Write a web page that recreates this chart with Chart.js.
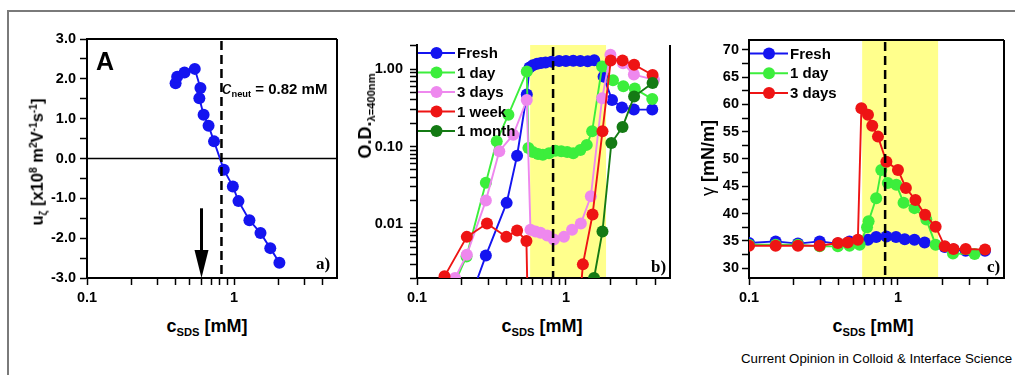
<!DOCTYPE html>
<html lang="en">
<head>
<meta charset="UTF-8">
<title>SDS panels a-c</title>
<script src="https://cdn.jsdelivr.net/npm/chart.js"></script>
<style>
  * { margin: 0; padding: 0; box-sizing: border-box; }
  body {
    width: 1015px; height: 375px; background: #fff;
    position: relative; overflow: hidden;
    font-family: Arial, 'Liberation Sans', sans-serif; color: #000;
  }
  .frame-top { position: absolute; left: 8px; top: 10px; width: 1007px; height: 2px; background: #7a7a7a; }
  .frame-left { position: absolute; left: 7px; top: 10px; width: 2px; height: 365px; background: #7a7a7a; }
  canvas { position: absolute; top: 0; }
  .lbl { position: absolute; font-weight: bold; white-space: nowrap; line-height: 1; }
  .rot { transform: translate(-50%, -50%) rotate(-90deg); }
  .cx { transform: translateX(-50%); }
  .lbl sub { font-size: 0.62em; vertical-align: -0.35em; line-height: 0; }
  .lbl sup { font-size: 0.62em; vertical-align: 0.6em; line-height: 0; }
  .serif { font-family: 'Liberation Serif', 'Times New Roman', serif; }
</style>
</head>
<body>
<div class="frame-top"></div>
<div class="frame-left"></div>

<canvas id="chartA" width="345" height="310" style="left:0"></canvas>
<canvas id="chartB" width="340" height="310" style="left:340px"></canvas>
<canvas id="chartC" width="335" height="310" style="left:680px"></canvas>

<!-- panel a -->
<div class="lbl" style="left:96px; top:49px; font-size:25px">A</div>
<div class="lbl" style="left:222px; top:78px; font-size:15px"><i style="font-weight:normal; font-size:19px">c</i><sub>neut</sub> = 0.82 mM</div>
<div class="lbl rot" style="left:37px; top:162px; font-size:16.5px">u<sub>&zeta;</sub> [x10<sup>8</sup> m<sup>2</sup>V<sup>-1</sup>s<sup>-1</sup>]</div>
<div class="lbl cx" style="left:207px; top:317px; font-size:18px">c<sub>SDS</sub> [mM]</div>
<div class="lbl serif" style="left:316px; top:255px; font-size:17px">a)</div>

<!-- panel b -->
<div class="lbl rot" style="left:365px; top:116px; font-size:18px">O.D.<sub>&lambda;=400nm</sub></div>
<div class="lbl cx" style="left:542px; top:317px; font-size:18px">c<sub>SDS</sub> [mM]</div>
<div class="lbl serif" style="left:651px; top:258px; font-size:17px">b)</div>

<!-- panel c -->
<div class="lbl rot" style="left:708px; top:158px; font-size:18px"><span style="font-weight:normal">&gamma;</span> [mN/m]</div>
<div class="lbl cx" style="left:873px; top:317px; font-size:18px">c<sub>SDS</sub> [mM]</div>
<div class="lbl serif" style="left:987px; top:258px; font-size:17px">c)</div>

<div class="lbl" style="left:741px; top:352px; font-size:13.3px; font-weight:normal">Current Opinion in Colloid &amp; Interface Science</div>

<script>
// shared markers
const cNeut = 0.82;
const yellowBand = [0.575, 1.86];
const arrowAt = 0.6;
const arrowSpan = [-1.25, -3.0];

// axis ticks
const xTicks = [0.1, 0.2, 0.3, 0.4, 0.5, 0.6, 0.7, 0.8, 0.9, 1, 2, 3, 4];
const xLabels = [0.1, 1];
const aYTicks = [-3, -2.5, -2, -1.5, -1, -0.5, 0, 0.5, 1, 1.5, 2, 2.5, 3];
const aYLabels = [-3, -2, -1, 0, 1, 2, 3];
const bYTicks = [0.002, 0.003, 0.004, 0.005, 0.006, 0.007, 0.008, 0.009,
                 0.01, 0.02, 0.03, 0.04, 0.05, 0.06, 0.07, 0.08, 0.09,
                 0.1, 0.2, 0.3, 0.4, 0.5, 0.6, 0.7, 0.8, 0.9, 1, 2];
const bYLabels = [0.01, 0.1, 1];
const cYTicks = [30, 32.5, 35, 37.5, 40, 42.5, 45, 47.5, 50, 52.5, 55, 57.5, 60, 62.5, 65, 67.5, 70];
const cYLabels = [30, 35, 40, 45, 50, 55, 60, 65, 70];

// panel a: electrophoretic mobility
const aConc = [0.40, 0.41, 0.46, 0.54, 0.59, 0.58, 0.62, 0.67, 0.73, 0.85, 0.98, 1.07, 1.27, 1.51, 1.76, 2.03];
const aMob  = [1.89, 2.05, 2.16, 2.25, 1.77, 1.51, 1.10, 0.82, 0.43, -0.28, -0.70, -1.07, -1.55, -1.87, -2.25, -2.62];

// panel b: optical density
const bFreshX = [0.22, 0.29, 0.40, 0.47, 0.546, 0.57, 0.60, 0.64, 0.68, 0.73, 0.80, 0.90, 1.00, 1.12, 1.25, 1.40, 1.55, 1.79, 2.04, 2.38, 2.86, 3.80];
const bFreshY = [0.0009, 0.0039, 0.0187, 0.076, 0.47, 1.05, 1.12, 1.17, 1.20, 1.22, 1.25, 1.27, 1.27, 1.28, 1.27, 1.26, 1.30, 0.80, 0.40, 0.32, 0.30, 0.30];
const bDay1X = [0.15, 0.215, 0.29, 0.343, 0.411, 0.546, 0.56, 0.60, 0.65, 0.70, 0.77, 0.85, 0.93, 1.02, 1.12, 1.25, 1.38, 1.50, 1.75, 2.07, 2.43, 2.90, 3.80];
const bDay1Y = [0.0008, 0.0038, 0.034, 0.117, 0.258, 0.93, 0.096, 0.085, 0.080, 0.078, 0.082, 0.088, 0.087, 0.085, 0.082, 0.090, 0.105, 0.157, 1.08, 0.72, 0.60, 0.56, 0.41];
const bDay3X = [0.15, 0.18, 0.216, 0.29, 0.357, 0.443, 0.546, 0.578, 0.625, 0.675, 0.749, 0.83, 0.97, 1.10, 1.26, 1.47, 1.75, 1.99, 2.42, 2.86, 3.90];
const bDay3Y = [0.0005, 0.002, 0.0040, 0.020, 0.087, 0.142, 0.40, 0.0084, 0.0080, 0.0077, 0.0071, 0.0063, 0.0068, 0.0084, 0.0101, 0.0227, 0.42, 1.53, 1.19, 0.85, 0.73];
const bWeek1X = [0.12, 0.153, 0.216, 0.295, 0.398, 0.47, 0.543, 0.56, 1.18, 1.30, 1.51, 1.76, 2.00, 2.40, 2.87, 3.82];
const bWeek1Y = [0.0008, 0.0021, 0.0068, 0.0101, 0.0068, 0.0082, 0.0060, 0.0003, 0.0003, 0.0030, 0.0132, 0.157, 1.29, 1.29, 1.14, 0.84];
const bMonth1X = [1.40, 1.545, 1.76, 2.02, 2.40, 2.87, 3.82];
const bMonth1Y = [0.0005, 0.0020, 0.0080, 0.111, 0.179, 0.443, 0.66];

// panel c: surface tension
const cFreshX = [0.10, 0.151, 0.213, 0.298, 0.395, 0.473, 0.55, 0.629, 0.714, 0.836, 0.97, 1.11, 1.29, 1.51, 2.06, 2.36, 2.85, 3.84];
const cFreshY = [34.6, 34.9, 34.5, 34.9, 34.5, 34.9, 35.0, 35.2, 35.7, 35.8, 35.7, 35.3, 35.2, 34.7, 33.9, 33.4, 33.2, 33.2];
const cDay1X = [0.10, 0.151, 0.213, 0.298, 0.395, 0.473, 0.553, 0.62, 0.635, 0.714, 0.773, 0.855, 0.975, 1.09, 1.29, 1.55, 1.79, 2.34, 3.27];
const cDay1Y = [34.3, 34.3, 34.3, 34.0, 34.0, 34.1, 34.3, 37.5, 38.6, 42.8, 48.0, 45.6, 45.3, 42.0, 41.0, 38.9, 34.3, 32.7, 32.6];
const cDay3X = [0.10, 0.151, 0.213, 0.298, 0.395, 0.46, 0.538, 0.568, 0.629, 0.672, 0.734, 0.836, 1.00, 1.13, 1.31, 1.52, 1.79, 2.06, 2.36, 2.85, 3.84];
const cDay3Y = [34.1, 34.1, 34.1, 34.1, 34.6, 34.7, 35.2, 59.3, 58.1, 56.1, 54.1, 49.5, 48.0, 44.7, 42.5, 39.8, 37.6, 34.0, 33.5, 33.5, 33.4];

const colors = { fresh: '#1414f0', day1: '#3cee3c', day3: '#ee88ee', week1: '#ee1414', month1: '#147a14' };
const tickFont = { family: 'Arial, "Liberation Sans", sans-serif', size: 14.5, weight: 'bold' };

const pts = (xs, ys) => xs.map((x, i) => ({ x: x, y: ys[i] }));

function series(label, xs, ys, color, order) {
  return {
    label: label, data: pts(xs, ys), showLine: true, order: order,
    borderColor: color, backgroundColor: color, borderWidth: 1.9,
    pointRadius: 6, pointBorderWidth: 0, pointBackgroundColor: color
  };
}

function xAxis(max) {
  return {
    type: 'logarithmic', min: 0.1, max: max,
    afterBuildTicks: s => { s.ticks = xTicks.map(v => ({ value: v })); },
    afterFit: s => { s.height = 32; },
    ticks: { autoSkip: false, maxRotation: 0, padding: 4, color: '#000', font: tickFont,
             callback: v => xLabels.includes(v) ? String(v) : '' },
    grid: { drawOnChartArea: false, tickLength: 7, tickColor: '#000', tickWidth: 1.5 },
    border: { color: '#000', width: 2 }
  };
}

function yAxis(type, min, max, ticks, labels, digits, width, pad) {
  return {
    type: type, min: min, max: max,
    afterBuildTicks: s => { s.ticks = ticks.map(v => ({ value: v })); },
    afterFit: s => { s.width = width; },
    ticks: { autoSkip: false, padding: pad, color: '#000', font: tickFont,
             callback: v => labels.some(l => Math.abs(l - v) < 1e-9) ? v.toFixed(digits) : '' },
    grid: { drawOnChartArea: false, tickLength: 7, tickColor: '#000', tickWidth: 1.5 },
    border: { color: '#000', width: 2 }
  };
}

// band, zero line, dashed c_neut line, arrow, frame and in-plot legend
const deco = {
  id: 'deco',
  beforeDatasetsDraw(chart, args, o) {
    const { ctx, chartArea: ca, scales: { x, y } } = chart;
    ctx.save();
    if (o.band) {
      const x0 = x.getPixelForValue(yellowBand[0]), x1 = x.getPixelForValue(yellowBand[1]);
      ctx.fillStyle = '#ffff8c';
      ctx.fillRect(x0, ca.top, x1 - x0, ca.bottom - ca.top - 1);
    }
    if (o.zero) {
      const y0 = y.getPixelForValue(0);
      ctx.strokeStyle = '#000'; ctx.lineWidth = 1.5;
      ctx.beginPath(); ctx.moveTo(ca.left, y0); ctx.lineTo(ca.right, y0); ctx.stroke();
    }
    ctx.restore();
  },
  afterDatasetsDraw(chart, args, o) {
    const { ctx, chartArea: ca, scales: { x, y } } = chart;
    ctx.save();
    const xn = x.getPixelForValue(cNeut);
    ctx.strokeStyle = '#000'; ctx.lineWidth = 2.5; ctx.setLineDash([9, 5]);
    ctx.beginPath(); ctx.moveTo(xn, ca.top + 2); ctx.lineTo(xn, ca.bottom); ctx.stroke();
    ctx.setLineDash([]);

    if (o.arrow) {
      const xa = x.getPixelForValue(arrowAt);
      const yTop = y.getPixelForValue(arrowSpan[0]), yTip = y.getPixelForValue(arrowSpan[1]);
      const headH = 28;
      ctx.lineWidth = 3;
      ctx.beginPath(); ctx.moveTo(xa, yTop); ctx.lineTo(xa, yTip - headH + 2); ctx.stroke();
      ctx.fillStyle = '#000';
      ctx.beginPath(); ctx.moveTo(xa - 7, yTip - headH); ctx.lineTo(xa + 7, yTip - headH); ctx.lineTo(xa, yTip); ctx.closePath(); ctx.fill();
    }

    ctx.lineWidth = 2; ctx.strokeStyle = '#000';
    ctx.beginPath();
    if (o.topEdge) { ctx.moveTo(ca.left, ca.top); ctx.lineTo(ca.right, ca.top); }
    ctx.moveTo(ca.right, ca.top); ctx.lineTo(ca.right, ca.bottom);
    ctx.stroke();

    if (o.legend) {
      const L = o.legend;
      ctx.font = 'bold 15px Arial, "Liberation Sans", sans-serif';
      ctx.textBaseline = 'middle';
      chart.data.datasets.forEach((ds, i) => {
        const yy = L.top + i * L.gap;
        ctx.strokeStyle = ds.borderColor; ctx.lineWidth = 2;
        ctx.beginPath(); ctx.moveTo(L.left, yy); ctx.lineTo(L.left + L.len, yy); ctx.stroke();
        ctx.fillStyle = ds.borderColor;
        ctx.beginPath(); ctx.arc(L.left + L.len / 2, yy, 6, 0, Math.PI * 2); ctx.fill();
        ctx.fillStyle = '#000';
        ctx.fillText(ds.label, L.left + L.len + 2, yy + 1);
      });
    }
    ctx.restore();
  }
};

const baseOptions = {
  responsive: false, animation: false, events: [],
  plugins: { legend: { display: false }, tooltip: { enabled: false } }
};

new Chart(document.getElementById('chartA'), {
  type: 'scatter',
  data: { datasets: [series('mobility', aConc, aMob, colors.fresh, 1)] },
  options: {
    ...baseOptions,
    layout: { padding: { left: 0, top: 39, right: 8, bottom: 0 } },
    plugins: { ...baseOptions.plugins, deco: { zero: true, arrow: true, topEdge: true } },
    scales: { x: xAxis(5), y: yAxis('linear', -3, 3, aYTicks, aYLabels, 1, 87, 4) }
  },
  plugins: [deco]
});

new Chart(document.getElementById('chartB'), {
  type: 'scatter',
  data: { datasets: [
    series('Fresh', bFreshX, bFreshY, colors.fresh, 5),
    series('1 day', bDay1X, bDay1Y, colors.day1, 4),
    series('3 days', bDay3X, bDay3Y, colors.day3, 3),
    series('1 week', bWeek1X, bWeek1Y, colors.week1, 2),
    series('1 month', bMonth1X, bMonth1Y, colors.month1, 1)
  ] },
  options: {
    ...baseOptions,
    layout: { padding: { left: 0, top: 45, right: 10, bottom: 0 } },
    plugins: { ...baseOptions.plugins, deco: { band: true, legend: { left: 78, top: 53, gap: 19.5, len: 37 } } },
    scales: { x: xAxis(5), y: yAxis('logarithmic', 0.002, 2.05, bYTicks, bYLabels, 2, 77, 7) }
  },
  plugins: [deco]
});

new Chart(document.getElementById('chartC'), {
  type: 'scatter',
  data: { datasets: [
    series('Fresh', cFreshX, cFreshY, colors.fresh, 3),
    series('1 day', cDay1X, cDay1Y, colors.day1, 2),
    series('3 days', cDay3X, cDay3Y, colors.week1, 1)
  ] },
  options: {
    ...baseOptions,
    layout: { padding: { left: 0, top: 40, right: 11, bottom: 0 } },
    plugins: { ...baseOptions.plugins, deco: { band: true, topEdge: true, legend: { left: 70, top: 53.5, gap: 19.7, len: 38 } } },
    scales: { x: xAxis(5.15), y: yAxis('linear', 28.2, 71.8, cYTicks, cYLabels, 0, 69, 3) }
  },
  plugins: [deco]
});
</script>
</body>
</html>
